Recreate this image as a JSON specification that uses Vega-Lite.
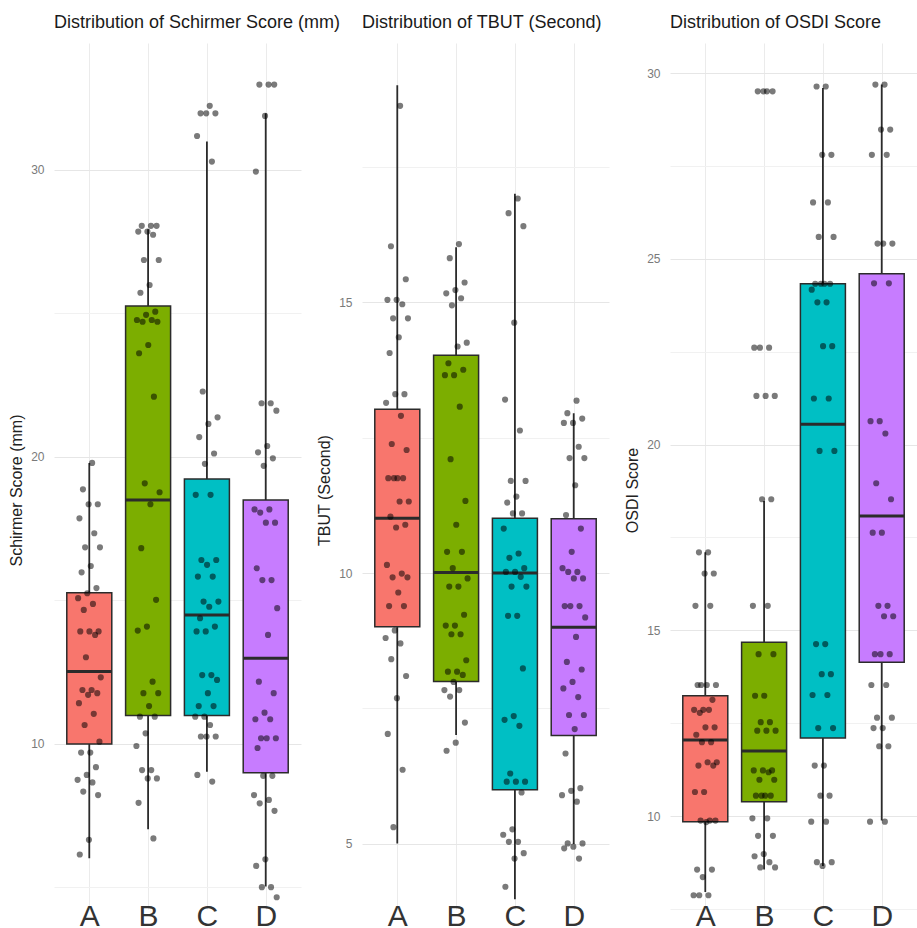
{
  "$schema": "https://vega.github.io/schema/vega-lite/v6.json",
  "padding": {"left": 8, "top": 14, "right": 0, "bottom": 0},
  "background": "white",
  "config": {
    "view": {"stroke": null},
    "font": "Liberation Sans",
    "axis": {"ticks": false, "domain": false, "gridColor": "#ebebeb", "labelFont": "Liberation Sans", "titleFont": "Liberation Sans"},
    "title": {"font": "Liberation Sans", "fontSize": 18, "fontWeight": "normal", "color": "#1a1a1a", "anchor": "start", "frame": "group", "offset": 11}
  },
  "datasets": {
    "box": [
      {"p": "S", "g": "A", "lower": 6.02, "q1": 10.0, "median": 12.52, "q3": 15.27, "upper": 19.79},
      {"p": "S", "g": "B", "lower": 7.03, "q1": 10.99, "median": 18.5, "q3": 25.26, "upper": 27.93},
      {"p": "S", "g": "C", "lower": 9.03, "q1": 10.99, "median": 14.49, "q3": 19.23, "upper": 30.99},
      {"p": "S", "g": "D", "lower": 5.03, "q1": 9.0, "median": 12.99, "q3": 18.5, "upper": 31.97},
      {"p": "T", "g": "A", "lower": 5.01, "q1": 9.01, "median": 11.01, "q3": 13.02, "upper": 19.0},
      {"p": "T", "g": "B", "lower": 7.01, "q1": 8.0, "median": 10.01, "q3": 14.02, "upper": 16.01},
      {"p": "T", "g": "C", "lower": 3.98, "q1": 6.0, "median": 10.0, "q3": 11.01, "upper": 17.0},
      {"p": "T", "g": "D", "lower": 5.0, "q1": 7.0, "median": 9.0, "q3": 11.0, "upper": 12.95},
      {"p": "O", "g": "A", "lower": 7.96, "q1": 9.85, "median": 12.05, "q3": 13.24, "upper": 17.1},
      {"p": "O", "g": "B", "lower": 8.56, "q1": 10.39, "median": 11.75, "q3": 14.68, "upper": 18.48},
      {"p": "O", "g": "C", "lower": 8.66, "q1": 12.1, "median": 20.55, "q3": 24.33, "upper": 29.6},
      {"p": "O", "g": "D", "lower": 9.88, "q1": 14.14, "median": 18.08, "q3": 24.6, "upper": 29.69}
    ],
    "pts": [
      {"p":"S","g":"A","v":19.79},{"p":"S","g":"A","v":18.87},{"p":"S","g":"A","v":18.35},{"p":"S","g":"A","v":18.35},{"p":"S","g":"A","v":17.86},{"p":"S","g":"A","v":17.34},{"p":"S","g":"A","v":16.85},{"p":"S","g":"A","v":16.85},{"p":"S","g":"A","v":16.2},{"p":"S","g":"A","v":15.98},{"p":"S","g":"A","v":15.43},{"p":"S","g":"A","v":15.25},{"p":"S","g":"A","v":15.08},{"p":"S","g":"A","v":14.88},{"p":"S","g":"A","v":14.67},{"p":"S","g":"A","v":13.92},{"p":"S","g":"A","v":13.92},{"p":"S","g":"A","v":13.92},{"p":"S","g":"A","v":13.8},{"p":"S","g":"A","v":13.02},{"p":"S","g":"A","v":12.32},{"p":"S","g":"A","v":11.88},{"p":"S","g":"A","v":11.88},{"p":"S","g":"A","v":11.77},{"p":"S","g":"A","v":11.71},{"p":"S","g":"A","v":11.42},{"p":"S","g":"A","v":11.05},{"p":"S","g":"A","v":10.66},{"p":"S","g":"A","v":10.08},{"p":"S","g":"A","v":9.7},{"p":"S","g":"A","v":9.7},{"p":"S","g":"A","v":9.19},{"p":"S","g":"A","v":8.92},{"p":"S","g":"A","v":8.75},{"p":"S","g":"A","v":8.66},{"p":"S","g":"A","v":8.34},{"p":"S","g":"A","v":8.22},{"p":"S","g":"A","v":6.66},{"p":"S","g":"A","v":6.15},
      {"p":"S","g":"B","v":28.05},{"p":"S","g":"B","v":28.05},{"p":"S","g":"B","v":28.05},{"p":"S","g":"B","v":27.85},{"p":"S","g":"B","v":27.85},{"p":"S","g":"B","v":27.74},{"p":"S","g":"B","v":26.86},{"p":"S","g":"B","v":26.86},{"p":"S","g":"B","v":25.99},{"p":"S","g":"B","v":25.72},{"p":"S","g":"B","v":25.06},{"p":"S","g":"B","v":24.95},{"p":"S","g":"B","v":24.77},{"p":"S","g":"B","v":24.77},{"p":"S","g":"B","v":24.71},{"p":"S","g":"B","v":24.71},{"p":"S","g":"B","v":23.9},{"p":"S","g":"B","v":23.61},{"p":"S","g":"B","v":22.1},{"p":"S","g":"B","v":19.08},{"p":"S","g":"B","v":18.77},{"p":"S","g":"B","v":18.35},{"p":"S","g":"B","v":16.82},{"p":"S","g":"B","v":15.02},{"p":"S","g":"B","v":14.09},{"p":"S","g":"B","v":13.95},{"p":"S","g":"B","v":12.17},{"p":"S","g":"B","v":11.77},{"p":"S","g":"B","v":11.77},{"p":"S","g":"B","v":11.32},{"p":"S","g":"B","v":10.95},{"p":"S","g":"B","v":10.95},{"p":"S","g":"B","v":10.37},{"p":"S","g":"B","v":9.93},{"p":"S","g":"B","v":9.09},{"p":"S","g":"B","v":9.09},{"p":"S","g":"B","v":8.8},{"p":"S","g":"B","v":8.8},{"p":"S","g":"B","v":7.95},{"p":"S","g":"B","v":6.71},
      {"p":"S","g":"C","v":32.23},{"p":"S","g":"C","v":31.97},{"p":"S","g":"C","v":31.97},{"p":"S","g":"C","v":31.97},{"p":"S","g":"C","v":31.18},{"p":"S","g":"C","v":30.29},{"p":"S","g":"C","v":22.28},{"p":"S","g":"C","v":21.38},{"p":"S","g":"C","v":21.15},{"p":"S","g":"C","v":20.69},{"p":"S","g":"C","v":20.12},{"p":"S","g":"C","v":19.76},{"p":"S","g":"C","v":18.68},{"p":"S","g":"C","v":18.68},{"p":"S","g":"C","v":16.41},{"p":"S","g":"C","v":16.41},{"p":"S","g":"C","v":16.24},{"p":"S","g":"C","v":15.83},{"p":"S","g":"C","v":15.83},{"p":"S","g":"C","v":14.96},{"p":"S","g":"C","v":14.96},{"p":"S","g":"C","v":14.78},{"p":"S","g":"C","v":14.38},{"p":"S","g":"C","v":14.09},{"p":"S","g":"C","v":13.92},{"p":"S","g":"C","v":13.92},{"p":"S","g":"C","v":12.4},{"p":"S","g":"C","v":12.4},{"p":"S","g":"C","v":12.23},{"p":"S","g":"C","v":11.77},{"p":"S","g":"C","v":11.32},{"p":"S","g":"C","v":11.32},{"p":"S","g":"C","v":10.95},{"p":"S","g":"C","v":10.95},{"p":"S","g":"C","v":10.66},{"p":"S","g":"C","v":10.26},{"p":"S","g":"C","v":10.26},{"p":"S","g":"C","v":10.26},{"p":"S","g":"C","v":8.92},{"p":"S","g":"C","v":8.69},
      {"p":"S","g":"D","v":32.97},{"p":"S","g":"D","v":32.97},{"p":"S","g":"D","v":32.97},{"p":"S","g":"D","v":31.88},{"p":"S","g":"D","v":29.94},{"p":"S","g":"D","v":21.87},{"p":"S","g":"D","v":21.87},{"p":"S","g":"D","v":21.61},{"p":"S","g":"D","v":20.38},{"p":"S","g":"D","v":20.16},{"p":"S","g":"D","v":19.95},{"p":"S","g":"D","v":19.69},{"p":"S","g":"D","v":18.17},{"p":"S","g":"D","v":18.17},{"p":"S","g":"D","v":18.06},{"p":"S","g":"D","v":17.71},{"p":"S","g":"D","v":17.71},{"p":"S","g":"D","v":16.12},{"p":"S","g":"D","v":15.71},{"p":"S","g":"D","v":15.71},{"p":"S","g":"D","v":14.73},{"p":"S","g":"D","v":13.8},{"p":"S","g":"D","v":12.17},{"p":"S","g":"D","v":11.77},{"p":"S","g":"D","v":11.09},{"p":"S","g":"D","v":10.86},{"p":"S","g":"D","v":10.86},{"p":"S","g":"D","v":10.2},{"p":"S","g":"D","v":10.2},{"p":"S","g":"D","v":10.2},{"p":"S","g":"D","v":9.86},{"p":"S","g":"D","v":8.89},{"p":"S","g":"D","v":8.89},{"p":"S","g":"D","v":8.22},{"p":"S","g":"D","v":8.05},{"p":"S","g":"D","v":7.93},{"p":"S","g":"D","v":7.67},{"p":"S","g":"D","v":5.98},{"p":"S","g":"D","v":5.75},{"p":"S","g":"D","v":5.01},{"p":"S","g":"D","v":5.01},{"p":"S","g":"D","v":4.66},
      {"p":"T","g":"A","v":18.62},{"p":"T","g":"A","v":16.03},{"p":"T","g":"A","v":15.42},{"p":"T","g":"A","v":15.04},{"p":"T","g":"A","v":15.04},{"p":"T","g":"A","v":14.96},{"p":"T","g":"A","v":14.7},{"p":"T","g":"A","v":14.7},{"p":"T","g":"A","v":14.35},{"p":"T","g":"A","v":14.06},{"p":"T","g":"A","v":13.3},{"p":"T","g":"A","v":13.3},{"p":"T","g":"A","v":13.14},{"p":"T","g":"A","v":12.9},{"p":"T","g":"A","v":12.38},{"p":"T","g":"A","v":12.27},{"p":"T","g":"A","v":11.75},{"p":"T","g":"A","v":11.75},{"p":"T","g":"A","v":11.75},{"p":"T","g":"A","v":11.75},{"p":"T","g":"A","v":11.32},{"p":"T","g":"A","v":11.32},{"p":"T","g":"A","v":11.04},{"p":"T","g":"A","v":10.89},{"p":"T","g":"A","v":10.84},{"p":"T","g":"A","v":10.15},{"p":"T","g":"A","v":9.99},{"p":"T","g":"A","v":9.92},{"p":"T","g":"A","v":9.92},{"p":"T","g":"A","v":9.64},{"p":"T","g":"A","v":9.39},{"p":"T","g":"A","v":9.39},{"p":"T","g":"A","v":8.94},{"p":"T","g":"A","v":8.8},{"p":"T","g":"A","v":8.7},{"p":"T","g":"A","v":8.41},{"p":"T","g":"A","v":8.1},{"p":"T","g":"A","v":7.69},{"p":"T","g":"A","v":7.03},{"p":"T","g":"A","v":6.37},{"p":"T","g":"A","v":5.31},
      {"p":"T","g":"B","v":16.07},{"p":"T","g":"B","v":15.81},{"p":"T","g":"B","v":15.36},{"p":"T","g":"B","v":15.22},{"p":"T","g":"B","v":15.16},{"p":"T","g":"B","v":15.07},{"p":"T","g":"B","v":14.94},{"p":"T","g":"B","v":14.25},{"p":"T","g":"B","v":14.18},{"p":"T","g":"B","v":13.87},{"p":"T","g":"B","v":13.75},{"p":"T","g":"B","v":13.65},{"p":"T","g":"B","v":13.65},{"p":"T","g":"B","v":13.07},{"p":"T","g":"B","v":12.1},{"p":"T","g":"B","v":11.33},{"p":"T","g":"B","v":10.89},{"p":"T","g":"B","v":10.39},{"p":"T","g":"B","v":10.39},{"p":"T","g":"B","v":10.09},{"p":"T","g":"B","v":9.9},{"p":"T","g":"B","v":9.75},{"p":"T","g":"B","v":9.75},{"p":"T","g":"B","v":9.23},{"p":"T","g":"B","v":9.03},{"p":"T","g":"B","v":9.03},{"p":"T","g":"B","v":8.87},{"p":"T","g":"B","v":8.87},{"p":"T","g":"B","v":8.39},{"p":"T","g":"B","v":8.18},{"p":"T","g":"B","v":8.18},{"p":"T","g":"B","v":8.12},{"p":"T","g":"B","v":7.99},{"p":"T","g":"B","v":7.84},{"p":"T","g":"B","v":7.84},{"p":"T","g":"B","v":7.72},{"p":"T","g":"B","v":7.24},{"p":"T","g":"B","v":6.87},{"p":"T","g":"B","v":6.72},
      {"p":"T","g":"C","v":16.91},{"p":"T","g":"C","v":16.64},{"p":"T","g":"C","v":16.4},{"p":"T","g":"C","v":14.62},{"p":"T","g":"C","v":13.2},{"p":"T","g":"C","v":12.63},{"p":"T","g":"C","v":11.7},{"p":"T","g":"C","v":11.7},{"p":"T","g":"C","v":11.41},{"p":"T","g":"C","v":11.3},{"p":"T","g":"C","v":11.1},{"p":"T","g":"C","v":11.1},{"p":"T","g":"C","v":10.82},{"p":"T","g":"C","v":10.36},{"p":"T","g":"C","v":10.28},{"p":"T","g":"C","v":10.09},{"p":"T","g":"C","v":10.02},{"p":"T","g":"C","v":10.02},{"p":"T","g":"C","v":9.93},{"p":"T","g":"C","v":9.75},{"p":"T","g":"C","v":9.75},{"p":"T","g":"C","v":9.21},{"p":"T","g":"C","v":9.21},{"p":"T","g":"C","v":8.24},{"p":"T","g":"C","v":7.36},{"p":"T","g":"C","v":7.29},{"p":"T","g":"C","v":7.18},{"p":"T","g":"C","v":6.3},{"p":"T","g":"C","v":6.15},{"p":"T","g":"C","v":6.15},{"p":"T","g":"C","v":6.15},{"p":"T","g":"C","v":5.95},{"p":"T","g":"C","v":5.27},{"p":"T","g":"C","v":5.17},{"p":"T","g":"C","v":5.04},{"p":"T","g":"C","v":5.04},{"p":"T","g":"C","v":4.83},{"p":"T","g":"C","v":4.73},{"p":"T","g":"C","v":4.21},
      {"p":"T","g":"D","v":13.18},{"p":"T","g":"D","v":12.95},{"p":"T","g":"D","v":12.85},{"p":"T","g":"D","v":12.77},{"p":"T","g":"D","v":12.77},{"p":"T","g":"D","v":12.33},{"p":"T","g":"D","v":12.12},{"p":"T","g":"D","v":12.12},{"p":"T","g":"D","v":11.62},{"p":"T","g":"D","v":11.07},{"p":"T","g":"D","v":10.82},{"p":"T","g":"D","v":10.39},{"p":"T","g":"D","v":10.09},{"p":"T","g":"D","v":10.02},{"p":"T","g":"D","v":10.02},{"p":"T","g":"D","v":9.9},{"p":"T","g":"D","v":9.9},{"p":"T","g":"D","v":9.39},{"p":"T","g":"D","v":9.39},{"p":"T","g":"D","v":9.39},{"p":"T","g":"D","v":9.18},{"p":"T","g":"D","v":8.82},{"p":"T","g":"D","v":8.36},{"p":"T","g":"D","v":8.22},{"p":"T","g":"D","v":7.99},{"p":"T","g":"D","v":7.87},{"p":"T","g":"D","v":7.71},{"p":"T","g":"D","v":7.38},{"p":"T","g":"D","v":7.38},{"p":"T","g":"D","v":7.12},{"p":"T","g":"D","v":6.67},{"p":"T","g":"D","v":6.03},{"p":"T","g":"D","v":5.98},{"p":"T","g":"D","v":5.9},{"p":"T","g":"D","v":5.78},{"p":"T","g":"D","v":5.01},{"p":"T","g":"D","v":5.01},{"p":"T","g":"D","v":4.95},{"p":"T","g":"D","v":4.92},{"p":"T","g":"D","v":4.73},
      {"p":"O","g":"A","v":17.1},{"p":"O","g":"A","v":17.1},{"p":"O","g":"A","v":16.53},{"p":"O","g":"A","v":16.53},{"p":"O","g":"A","v":15.66},{"p":"O","g":"A","v":15.66},{"p":"O","g":"A","v":13.53},{"p":"O","g":"A","v":13.53},{"p":"O","g":"A","v":13.53},{"p":"O","g":"A","v":13.53},{"p":"O","g":"A","v":13.13},{"p":"O","g":"A","v":12.86},{"p":"O","g":"A","v":12.86},{"p":"O","g":"A","v":12.86},{"p":"O","g":"A","v":12.78},{"p":"O","g":"A","v":12.39},{"p":"O","g":"A","v":12.39},{"p":"O","g":"A","v":12.19},{"p":"O","g":"A","v":11.99},{"p":"O","g":"A","v":11.99},{"p":"O","g":"A","v":11.45},{"p":"O","g":"A","v":11.45},{"p":"O","g":"A","v":11.36},{"p":"O","g":"A","v":11.36},{"p":"O","g":"A","v":10.65},{"p":"O","g":"A","v":10.65},{"p":"O","g":"A","v":9.88},{"p":"O","g":"A","v":9.88},{"p":"O","g":"A","v":9.88},{"p":"O","g":"A","v":9.84},{"p":"O","g":"A","v":8.56},{"p":"O","g":"A","v":8.56},{"p":"O","g":"A","v":8.36},{"p":"O","g":"A","v":7.87},{"p":"O","g":"A","v":7.87},{"p":"O","g":"A","v":7.87},
      {"p":"O","g":"B","v":29.51},{"p":"O","g":"B","v":29.51},{"p":"O","g":"B","v":29.51},{"p":"O","g":"B","v":29.51},{"p":"O","g":"B","v":22.61},{"p":"O","g":"B","v":22.61},{"p":"O","g":"B","v":22.61},{"p":"O","g":"B","v":21.31},{"p":"O","g":"B","v":21.31},{"p":"O","g":"B","v":21.31},{"p":"O","g":"B","v":18.53},{"p":"O","g":"B","v":18.53},{"p":"O","g":"B","v":15.66},{"p":"O","g":"B","v":15.66},{"p":"O","g":"B","v":14.36},{"p":"O","g":"B","v":14.36},{"p":"O","g":"B","v":13.24},{"p":"O","g":"B","v":13.24},{"p":"O","g":"B","v":12.53},{"p":"O","g":"B","v":12.53},{"p":"O","g":"B","v":12.3},{"p":"O","g":"B","v":12.3},{"p":"O","g":"B","v":12.3},{"p":"O","g":"B","v":11.23},{"p":"O","g":"B","v":11.23},{"p":"O","g":"B","v":11.23},{"p":"O","g":"B","v":11.18},{"p":"O","g":"B","v":10.98},{"p":"O","g":"B","v":10.98},{"p":"O","g":"B","v":10.55},{"p":"O","g":"B","v":10.55},{"p":"O","g":"B","v":10.55},{"p":"O","g":"B","v":10.55},{"p":"O","g":"B","v":9.94},{"p":"O","g":"B","v":9.94},{"p":"O","g":"B","v":9.47},{"p":"O","g":"B","v":9.47},{"p":"O","g":"B","v":8.98},{"p":"O","g":"B","v":8.92},{"p":"O","g":"B","v":8.76},{"p":"O","g":"B","v":8.62},{"p":"O","g":"B","v":8.62},
      {"p":"O","g":"C","v":29.64},{"p":"O","g":"C","v":29.64},{"p":"O","g":"C","v":27.8},{"p":"O","g":"C","v":27.8},{"p":"O","g":"C","v":26.52},{"p":"O","g":"C","v":26.52},{"p":"O","g":"C","v":25.59},{"p":"O","g":"C","v":25.59},{"p":"O","g":"C","v":24.33},{"p":"O","g":"C","v":24.33},{"p":"O","g":"C","v":24.33},{"p":"O","g":"C","v":24.33},{"p":"O","g":"C","v":24.17},{"p":"O","g":"C","v":23.83},{"p":"O","g":"C","v":23.83},{"p":"O","g":"C","v":22.65},{"p":"O","g":"C","v":22.65},{"p":"O","g":"C","v":21.24},{"p":"O","g":"C","v":21.24},{"p":"O","g":"C","v":19.83},{"p":"O","g":"C","v":19.83},{"p":"O","g":"C","v":14.63},{"p":"O","g":"C","v":14.63},{"p":"O","g":"C","v":13.82},{"p":"O","g":"C","v":13.82},{"p":"O","g":"C","v":13.26},{"p":"O","g":"C","v":13.26},{"p":"O","g":"C","v":12.37},{"p":"O","g":"C","v":12.37},{"p":"O","g":"C","v":11.36},{"p":"O","g":"C","v":11.36},{"p":"O","g":"C","v":10.55},{"p":"O","g":"C","v":10.55},{"p":"O","g":"C","v":9.85},{"p":"O","g":"C","v":9.85},{"p":"O","g":"C","v":8.76},{"p":"O","g":"C","v":8.76},{"p":"O","g":"C","v":8.66},
      {"p":"O","g":"D","v":29.69},{"p":"O","g":"D","v":29.69},{"p":"O","g":"D","v":28.48},{"p":"O","g":"D","v":28.48},{"p":"O","g":"D","v":27.8},{"p":"O","g":"D","v":27.8},{"p":"O","g":"D","v":25.41},{"p":"O","g":"D","v":25.41},{"p":"O","g":"D","v":25.41},{"p":"O","g":"D","v":24.34},{"p":"O","g":"D","v":24.34},{"p":"O","g":"D","v":20.63},{"p":"O","g":"D","v":20.63},{"p":"O","g":"D","v":20.3},{"p":"O","g":"D","v":18.96},{"p":"O","g":"D","v":18.53},{"p":"O","g":"D","v":17.63},{"p":"O","g":"D","v":17.63},{"p":"O","g":"D","v":15.66},{"p":"O","g":"D","v":15.66},{"p":"O","g":"D","v":15.38},{"p":"O","g":"D","v":15.38},{"p":"O","g":"D","v":14.36},{"p":"O","g":"D","v":14.36},{"p":"O","g":"D","v":14.36},{"p":"O","g":"D","v":13.53},{"p":"O","g":"D","v":13.53},{"p":"O","g":"D","v":12.65},{"p":"O","g":"D","v":12.65},{"p":"O","g":"D","v":12.37},{"p":"O","g":"D","v":12.37},{"p":"O","g":"D","v":11.88},{"p":"O","g":"D","v":11.88},{"p":"O","g":"D","v":9.85},{"p":"O","g":"D","v":9.85}
    ]
  },
  "bounds": "flush",
  "spacing": 61,
  "hconcat": [
    {
      "width": 247, "height": 866,
      "title": "Distribution of Schirmer Score (mm)",
      "layer": [
        {"data": {"name": "box"}, "transform": [{"filter": "datum.p === 'S'"}],
         "mark": {"type": "rule", "stroke": "#2b2b2b", "strokeWidth": 1.8},
         "encoding": {
           "x": {"field": "g", "type": "nominal", "scale": {"type": "point", "padding": 0.6}, "axis": {"title": null, "labelAngle": 0, "labelFontSize": 30, "labelColor": "#333333", "labelPadding": -8, "grid": true}},
           "y": {"field": "lower", "type": "quantitative", "scale": {"domain": [4.25, 34.42], "nice": false, "zero": false},
                 "axis": {"title": "Schirmer Score (mm)", "values": [5, 10, 15, 20, 25, 30], "labelExpr": "datum.value % 10 === 0 ? datum.label : ''", "gridColor": {"condition": {"test": "datum.value % 10 === 0", "value": "#e6e6e6"}, "value": "#f1f1f1"}, "labelPadding": 10, "labelFontSize": 12, "labelColor": "#7a7a7a", "titleFontSize": 16, "titleFontWeight": "normal", "titleColor": "#222222", "titlePadding": 6, "titleY": 447}},
           "y2": {"field": "upper"}
         }},
        {"data": {"name": "box"}, "transform": [{"filter": "datum.p === 'S'"}],
         "mark": {"type": "bar", "size": 45, "stroke": "#2b2b2b", "strokeWidth": 1.5},
         "encoding": {
           "x": {"field": "g", "type": "nominal"},
           "y": {"field": "q1", "type": "quantitative"}, "y2": {"field": "q3"},
           "color": {"field": "g", "type": "nominal", "scale": {"domain": ["A", "B", "C", "D"], "range": ["#F8766D", "#7CAE00", "#00BFC4", "#C77CFF"]}, "legend": null}
         }},
        {"data": {"name": "box"}, "transform": [{"filter": "datum.p === 'S'"}],
         "mark": {"type": "tick", "size": 45, "thickness": 3, "color": "#2b2b2b", "opacity": 1},
         "encoding": {"x": {"field": "g", "type": "nominal"}, "y": {"field": "median", "type": "quantitative"}}},
        {"data": {"name": "pts"}, "transform": [{"filter": "datum.p === 'S'"}, {"window": [{"op": "row_number", "as": "i"}], "groupby": ["g"]}, {"calculate": "((datum.i * 0.6180339887) % 1) - 0.5", "as": "jit"}],
         "mark": {"type": "circle", "size": 38, "color": "black", "opacity": 0.52},
         "encoding": {"x": {"field": "g", "type": "nominal"}, "xOffset": {"field": "jit", "type": "quantitative", "scale": {"domain": [-0.5, 0.5], "range": [-12, 12]}}, "y": {"field": "v", "type": "quantitative"}}}
      ]
    },
    {
      "width": 247, "height": 866,
      "title": "Distribution of TBUT (Second)",
      "layer": [
        {"data": {"name": "box"}, "transform": [{"filter": "datum.p === 'T'"}],
         "mark": {"type": "rule", "stroke": "#2b2b2b", "strokeWidth": 1.8},
         "encoding": {
           "x": {"field": "g", "type": "nominal", "scale": {"type": "point", "padding": 0.6}, "axis": {"title": null, "labelAngle": 0, "labelFontSize": 30, "labelColor": "#333333", "labelPadding": -8, "grid": true}},
           "y": {"field": "lower", "type": "quantitative", "scale": {"domain": [3.8, 19.78], "nice": false, "zero": false},
                 "axis": {"title": "TBUT (Second)", "values": [5, 7.5, 10, 12.5, 15, 17.5], "labelExpr": "datum.value % 5 === 0 ? datum.label : ''", "gridColor": {"condition": {"test": "datum.value % 5 === 0", "value": "#e6e6e6"}, "value": "#f1f1f1"}, "labelPadding": 10, "labelFontSize": 12, "labelColor": "#7a7a7a", "titleFontSize": 16, "titleFontWeight": "normal", "titleColor": "#222222", "titlePadding": 6, "titleY": 447}},
           "y2": {"field": "upper"}
         }},
        {"data": {"name": "box"}, "transform": [{"filter": "datum.p === 'T'"}],
         "mark": {"type": "bar", "size": 45, "stroke": "#2b2b2b", "strokeWidth": 1.5},
         "encoding": {
           "x": {"field": "g", "type": "nominal"},
           "y": {"field": "q1", "type": "quantitative"}, "y2": {"field": "q3"},
           "color": {"field": "g", "type": "nominal", "scale": {"domain": ["A", "B", "C", "D"], "range": ["#F8766D", "#7CAE00", "#00BFC4", "#C77CFF"]}, "legend": null}
         }},
        {"data": {"name": "box"}, "transform": [{"filter": "datum.p === 'T'"}],
         "mark": {"type": "tick", "size": 45, "thickness": 3, "color": "#2b2b2b", "opacity": 1},
         "encoding": {"x": {"field": "g", "type": "nominal"}, "y": {"field": "median", "type": "quantitative"}}},
        {"data": {"name": "pts"}, "transform": [{"filter": "datum.p === 'T'"}, {"window": [{"op": "row_number", "as": "i"}], "groupby": ["g"]}, {"calculate": "((datum.i * 0.6180339887) % 1) - 0.5", "as": "jit"}],
         "mark": {"type": "circle", "size": 38, "color": "black", "opacity": 0.52},
         "encoding": {"x": {"field": "g", "type": "nominal"}, "xOffset": {"field": "jit", "type": "quantitative", "scale": {"domain": [-0.5, 0.5], "range": [-12, 12]}}, "y": {"field": "v", "type": "quantitative"}}}
      ]
    },
    {
      "width": 247, "height": 866,
      "title": "Distribution of OSDI Score",
      "layer": [
        {"data": {"name": "box"}, "transform": [{"filter": "datum.p === 'O'"}],
         "mark": {"type": "rule", "stroke": "#2b2b2b", "strokeWidth": 1.8},
         "encoding": {
           "x": {"field": "g", "type": "nominal", "scale": {"type": "point", "padding": 0.6}, "axis": {"title": null, "labelAngle": 0, "labelFontSize": 30, "labelColor": "#333333", "labelPadding": -8, "grid": true}},
           "y": {"field": "lower", "type": "quantitative", "scale": {"domain": [7.5, 30.81], "nice": false, "zero": false},
                 "axis": {"title": "OSDI Score", "values": [7.5, 10, 12.5, 15, 17.5, 20, 22.5, 25, 27.5, 30], "labelExpr": "datum.value % 5 === 0 ? datum.label : ''", "gridColor": {"condition": {"test": "datum.value % 5 === 0", "value": "#e6e6e6"}, "value": "#f1f1f1"}, "labelPadding": 10, "labelFontSize": 12, "labelColor": "#7a7a7a", "titleFontSize": 16, "titleFontWeight": "normal", "titleColor": "#222222", "titlePadding": 6, "titleY": 447}},
           "y2": {"field": "upper"}
         }},
        {"data": {"name": "box"}, "transform": [{"filter": "datum.p === 'O'"}],
         "mark": {"type": "bar", "size": 45, "stroke": "#2b2b2b", "strokeWidth": 1.5},
         "encoding": {
           "x": {"field": "g", "type": "nominal"},
           "y": {"field": "q1", "type": "quantitative"}, "y2": {"field": "q3"},
           "color": {"field": "g", "type": "nominal", "scale": {"domain": ["A", "B", "C", "D"], "range": ["#F8766D", "#7CAE00", "#00BFC4", "#C77CFF"]}, "legend": null}
         }},
        {"data": {"name": "box"}, "transform": [{"filter": "datum.p === 'O'"}],
         "mark": {"type": "tick", "size": 45, "thickness": 3, "color": "#2b2b2b", "opacity": 1},
         "encoding": {"x": {"field": "g", "type": "nominal"}, "y": {"field": "median", "type": "quantitative"}}},
        {"data": {"name": "pts"}, "transform": [{"filter": "datum.p === 'O'"}, {"window": [{"op": "row_number", "as": "i"}], "groupby": ["g"]}, {"calculate": "((datum.i * 0.6180339887) % 1) - 0.5", "as": "jit"}],
         "mark": {"type": "circle", "size": 38, "color": "black", "opacity": 0.52},
         "encoding": {"x": {"field": "g", "type": "nominal"}, "xOffset": {"field": "jit", "type": "quantitative", "scale": {"domain": [-0.5, 0.5], "range": [-12, 12]}}, "y": {"field": "v", "type": "quantitative"}}}
      ]
    }
  ]
}
